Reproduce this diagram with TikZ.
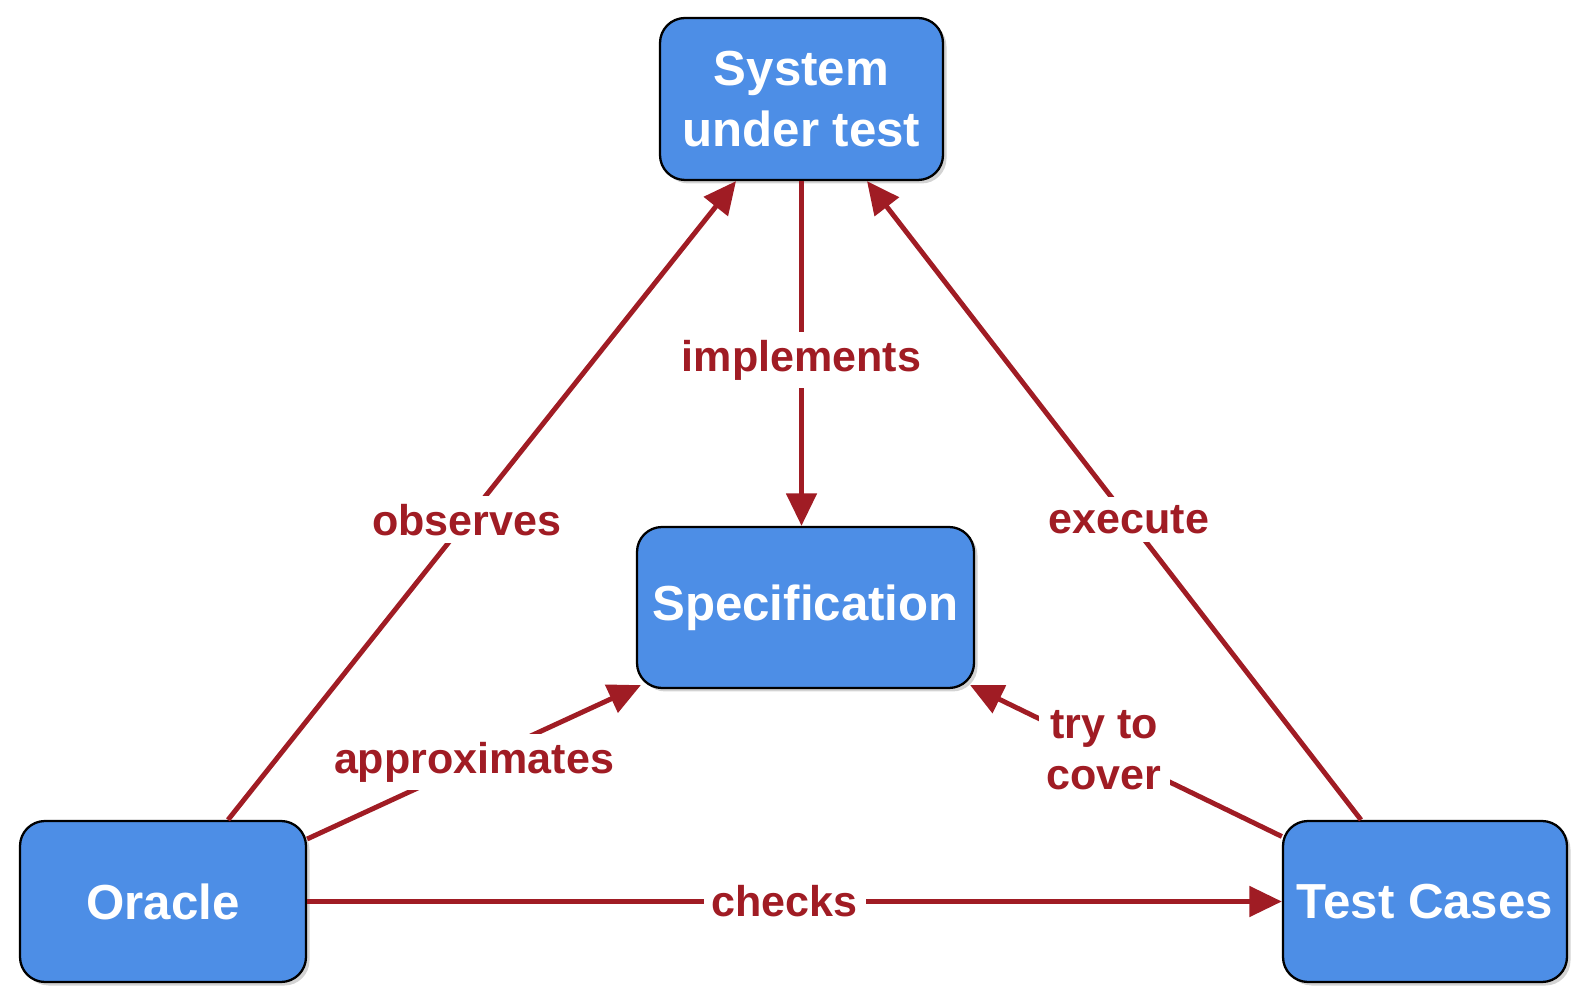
\documentclass[tikz,border=0pt]{standalone}
\usepackage{fontspec}
\setmainfont{Liberation Sans}
\usetikzlibrary{arrows.meta,shadows}
\definecolor{boxblue}{RGB}{77,142,230}
\definecolor{linkred}{RGB}{160,28,36}
\begin{document}
\begin{tikzpicture}[
  box/.style={draw=black, line width=1.3pt, fill=boxblue, rounded corners=0.5cm,
    text=white, font=\fontsize{28}{35}\selectfont\bfseries, align=center,
    inner sep=0pt,
    drop shadow={shadow xshift=0.07cm, shadow yshift=-0.07cm, opacity=0.35}},
  link/.style={draw=linkred, line width=2.8pt,
    -{Triangle[length=0.65cm, width=0.6cm]}},
  lbl/.style={fill=white, text=linkred, inner sep=0.16cm, align=center,
    font=\fontsize{24.5}{29}\selectfont\bfseries},
]
\useasboundingbox (0,0) rectangle (31.74,20.08);
% boxes
\node[box, minimum width=5.66cm, minimum height=3.24cm] (sut) at (16.03,18.10) {System\\under test};
\node[box, minimum width=6.74cm, minimum height=3.22cm] (spec) at (16.11,7.93) {Specification};
\node[box, minimum width=5.72cm, minimum height=3.22cm] (oracle) at (3.26,2.05) {Oracle};
\node[box, minimum width=5.68cm, minimum height=3.22cm] (tc) at (28.5,2.05) {Test Cases};
% connectors
\draw[link] ([xshift=1.3cm]oracle.north) -- node[lbl, pos=0.47] {observes} ([xshift=-1.31cm]sut.south);
\draw[link] (sut.south) -- node[lbl, pos=0.52] {implements} (sut.south |- spec.north);
\draw[link] ([xshift=-1.28cm]tc.north) -- node[lbl, pos=0.47] {execute} ([xshift=1.31cm]sut.south);
\draw[link] ([yshift=1.25cm]oracle.east) -- node[lbl, pos=0.5] {approximates} ([shift={(0.1,0.08)}]spec.south west);
\draw[link] ([yshift=1.3cm]tc.west) -- node[lbl, pos=0.57] {try to\\cover} ([shift={(-0.1,0.08)}]spec.south east);
\draw[link] (oracle.east) -- node[lbl, pos=0.49] {checks} (tc.west);
\end{tikzpicture}
\end{document}
